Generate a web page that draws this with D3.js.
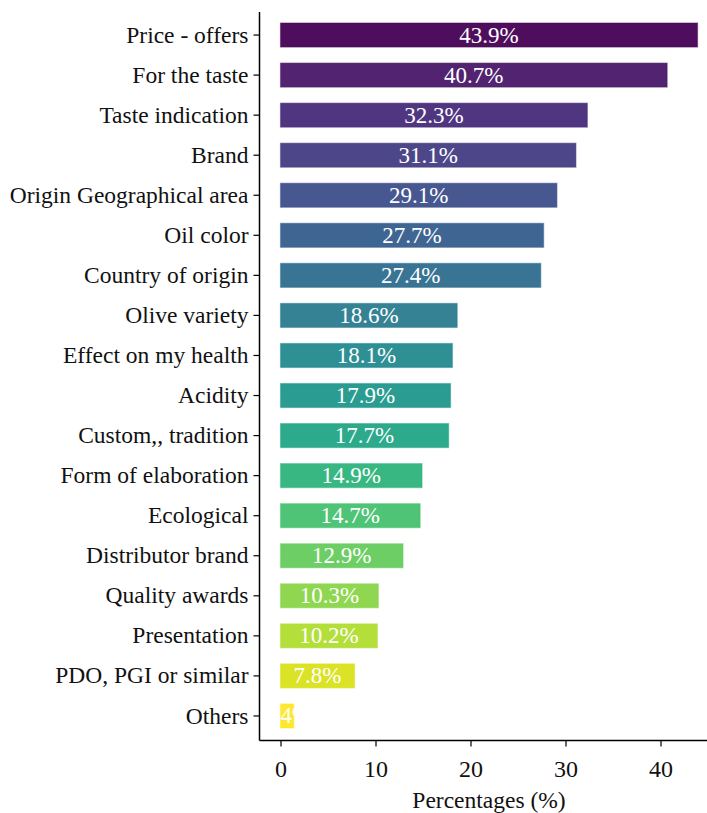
<!DOCTYPE html>
<html>
<head>
<meta charset="utf-8">
<script src="https://cdn.jsdelivr.net/npm/d3@7"></script>
<style>
  html, body { margin: 0; padding: 0; background: #fff; }
  svg { display: block; font-family: "Liberation Serif", "Times New Roman", serif; }
</style>
</head>
<body>
<svg id="chart" width="707" height="813"></svg>
<script>
const categories = [
  "Price - offers", "For the taste", "Taste indication", "Brand",
  "Origin Geographical area", "Oil color", "Country of origin", "Olive variety",
  "Effect on my health", "Acidity", "Custom,, tradition", "Form of elaboration",
  "Ecological", "Distributor brand", "Quality awards", "Presentation",
  "PDO, PGI or similar", "Others"
];
const values = [43.9, 40.7, 32.3, 31.1, 29.1, 27.7, 27.4, 18.6, 18.1, 17.9, 17.7, 14.9, 14.7, 12.9, 10.3, 10.2, 7.8, 1.4];
const xTicks = [0, 10, 20, 30, 40];
const xTitle = "Percentages (%)";

const FONT = '"Liberation Serif", "Times New Roman", serif';
const svg = d3.select("#chart");
const W = 707, H = 813;
const spineX = 259.5, baseY = 740.5, topY = 12;

const x = d3.scaleLinear().domain([0, 44]).range([280.5, 698.5]);
const y = d3.scaleBand().domain(categories).range([15, 736]).paddingInner(0.4).paddingOuter(0.2);
const color = i => d3.interpolateViridis(i / (categories.length - 1));

// bars
svg.append("g").selectAll("rect").data(categories).join("rect")
  .attr("x", x(0))
  .attr("y", d => y(d))
  .attr("width", (d, i) => x(values[i]) - x(0))
  .attr("height", y.bandwidth())
  .attr("fill", (d, i) => color(i))
  .attr("fill-opacity", 0.95)
  .attr("stroke", (d, i) => color(i))
  .attr("stroke-opacity", 0.45)
  .attr("stroke-width", 1.2);

// value labels
svg.append("g").selectAll("text").data(categories).join("text")
  .attr("x", (d, i) => (x(0) + x(values[i])) / 2)
  .attr("y", d => y(d) + y.bandwidth() / 2)
  .attr("text-anchor", "middle")
  .attr("dominant-baseline", "central")
  .attr("fill", "#fff")
  .attr("font-family", FONT)
  .attr("font-size", 23)
  .text((d, i) => values[i].toFixed(1) + "%");

// y axis
const yAxis = d3.axisLeft(y).tickSize(6).tickSizeOuter(0).tickPadding(5);
const gy = svg.append("g").attr("transform", `translate(${spineX},0)`).call(yAxis);
gy.select(".domain").remove();
gy.selectAll(".tick line").attr("stroke", "#000").attr("stroke-width", 1.2);
gy.selectAll(".tick text").attr("font-size", 23.5).attr("fill", "#111").attr("font-family", FONT);

// x axis
const xAxis = d3.axisBottom(x).tickValues(xTicks).tickSize(6).tickSizeOuter(0).tickPadding(13.5).tickFormat(d3.format("d"));
const gx = svg.append("g").attr("transform", `translate(0,${baseY})`).call(xAxis);
gx.select(".domain").remove();
gx.selectAll(".tick line").attr("stroke", "#000").attr("stroke-width", 1.2);
gx.selectAll(".tick text").attr("font-size", 24).attr("fill", "#111").attr("font-family", FONT);

// spines
svg.append("line").attr("x1", spineX).attr("x2", spineX).attr("y1", topY).attr("y2", baseY)
  .attr("stroke", "#000").attr("stroke-width", 1.5);
svg.append("line").attr("x1", spineX).attr("x2", W).attr("y1", baseY).attr("y2", baseY)
  .attr("stroke", "#000").attr("stroke-width", 1.5);

// x title (reference crops its descenders at the bottom edge)
svg.append("text")
  .attr("x", 489)
  .attr("y", 808)
  .attr("text-anchor", "middle")
  .attr("font-family", FONT)
  .attr("font-size", 23.5)
  .attr("fill", "#111")
  .text(xTitle);
</script>
</body>
</html>
